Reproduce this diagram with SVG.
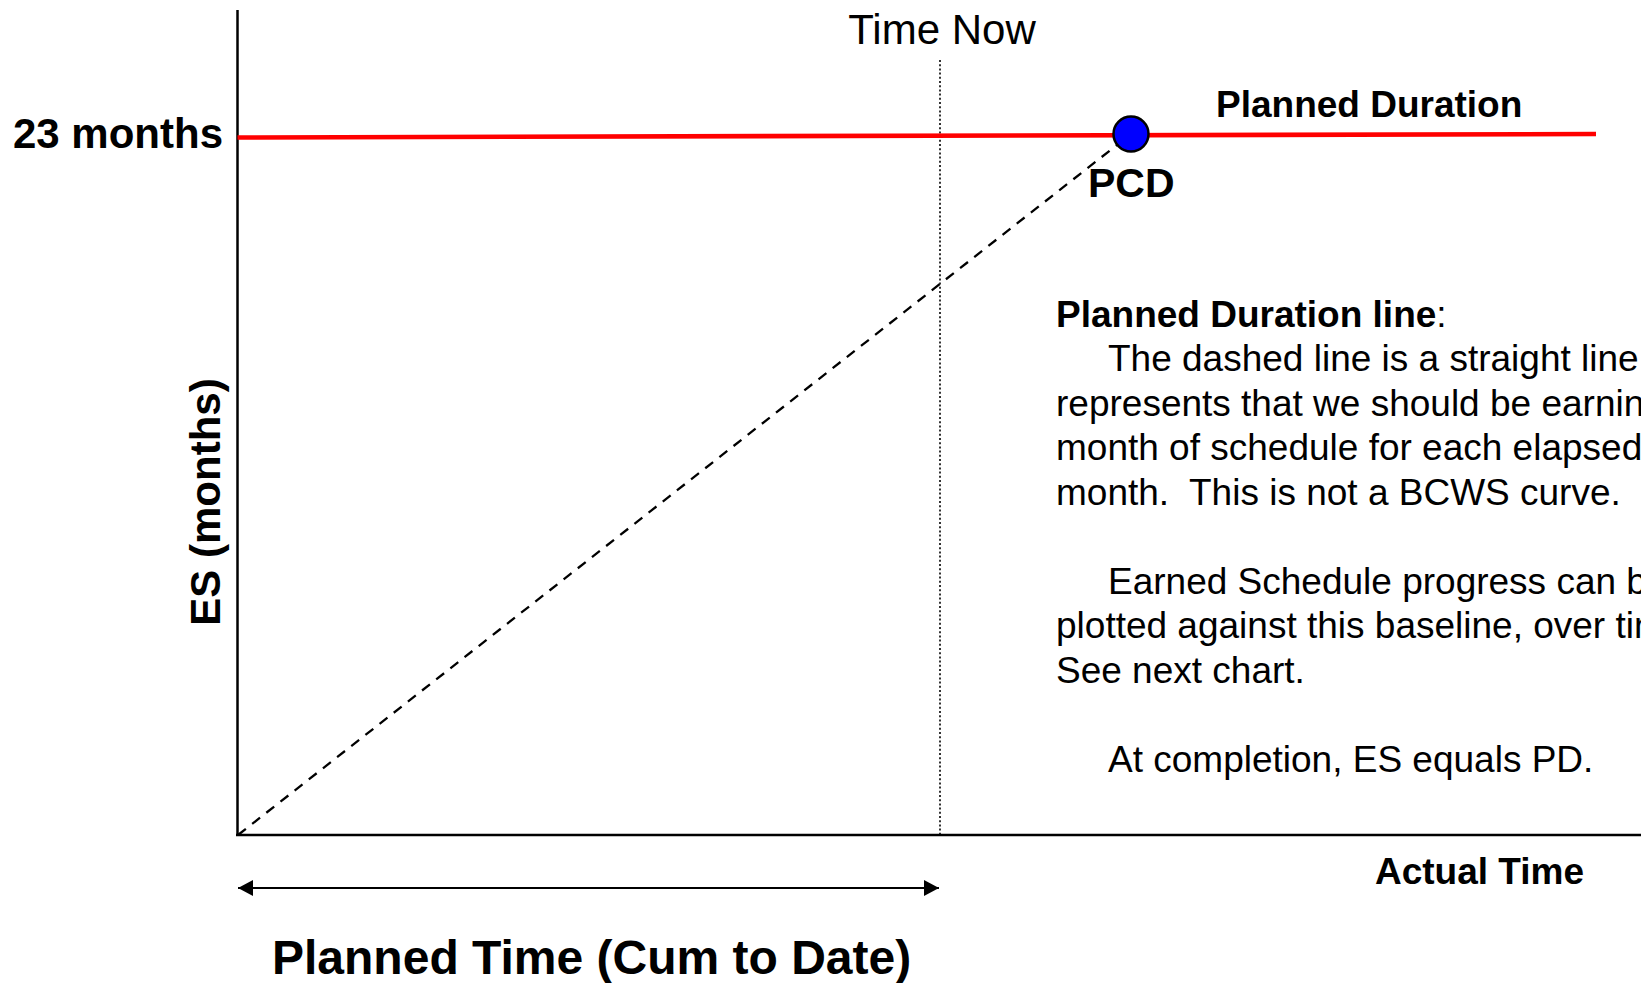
<svg xmlns="http://www.w3.org/2000/svg" width="1641" height="983" viewBox="0 0 1641 983">
<defs>
<style>
text{font-family:"Liberation Sans",Arial,sans-serif;fill:#000}
.b{font-weight:bold}
.axis{stroke:#000;stroke-width:2.5;fill:none}
</style>
<marker id="ah" viewBox="0 0 15 16" refX="15" refY="8" markerWidth="15" markerHeight="16" markerUnits="userSpaceOnUse" orient="auto-start-reverse">
<path d="M0,0 L15,8 L0,16 Z" fill="#000"/>
</marker>
</defs>
<rect width="1641" height="983" fill="#fff"/>
<g id="connectors">
<line class="axis" x1="237.5" y1="10" x2="237.5" y2="836"/>
<line class="axis" x1="236" y1="835" x2="1641" y2="835"/>
<line x1="940" y1="60" x2="940" y2="834" stroke="#000" stroke-width="1.6" stroke-dasharray="2 2.2"/>
<line x1="237.5" y1="137.5" x2="1596" y2="134" stroke="#ff0000" stroke-width="4.6"/>
<line x1="238" y1="835" x2="1131" y2="134" stroke="#000" stroke-width="2.3" stroke-dasharray="10 8"/>
<line x1="238" y1="888" x2="939" y2="888" stroke="#000" stroke-width="2.2" marker-start="url(#ah)" marker-end="url(#ah)"/>
</g>
<g id="pcd">
<circle cx="1131" cy="134" r="17.5" fill="#0000ff" stroke="#000" stroke-width="2.5"/>
<text class="b" x="1088" y="197" font-size="41">PCD</text>
</g>
<g id="time-now"><text x="942" y="44" font-size="42" text-anchor="middle">Time Now</text></g>
<g id="y-value"><text class="b" x="223" y="147.5" font-size="42" text-anchor="end">23 months</text></g>
<g id="planned-duration"><text class="b" x="1216" y="117" font-size="37">Planned Duration</text></g>
<g id="y-label"><text class="b" font-size="42" text-anchor="middle" transform="translate(220,502) rotate(-90)">ES (months)</text></g>
<g id="x-label"><text class="b" x="1375" y="884" font-size="37">Actual Time</text></g>
<g id="planned-time"><text class="b" x="272" y="974" font-size="48">Planned Time (Cum to Date)</text></g>
<g id="note" font-size="37">
<text x="1056" y="326.5"><tspan class="b">Planned Duration line</tspan>:</text>
<text x="1108" y="371">The dashed line is a straight line</text>
<text x="1056" y="415.5">represents that we should be earning</text>
<text x="1056" y="460">month of schedule for each elapsed</text>
<text x="1056" y="504.5" xml:space="preserve">month.  This is not a BCWS curve.</text>
<text x="1108" y="593.5">Earned Schedule progress can be</text>
<text x="1056" y="638">plotted against this baseline, over time.</text>
<text x="1056" y="682.5">See next chart.</text>
<text x="1108" y="771.5">At completion, ES equals PD.</text>
</g>
</svg>
